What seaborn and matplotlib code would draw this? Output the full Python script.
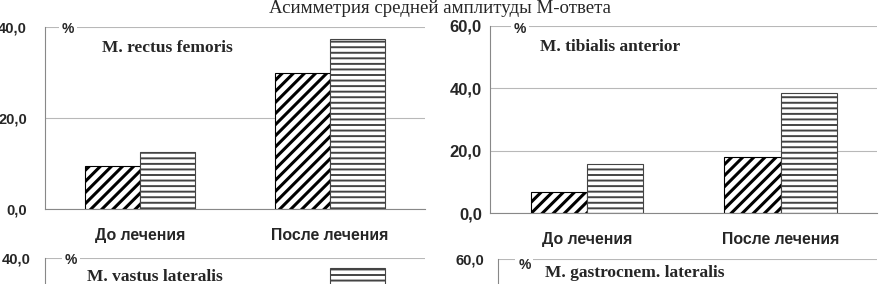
import pandas as pd
import seaborn as sns
import matplotlib.pyplot as plt

# values (bottom panels are cut off, hidden bars estimated)
categories = ["До лечения", "После лечения"]
series = ["Ряд 1", "Ряд 2"]

rectus_s1 = [9.5, 29.8]
rectus_s2 = [12.6, 37.4]
tibialis_s1 = [6.6, 18.0]
tibialis_s2 = [15.7, 38.5]
vastus_s1 = [8.0, 22.0]
vastus_s2 = [11.0, 37.8]
gastro_s1 = [9.0, 20.0]
gastro_s2 = [14.0, 33.0]

ticks_40 = [0, 20, 40]
ticks_60 = [0, 20, 40, 60]
labels_40 = ["0,0", "20,0", "40,0"]
labels_60 = ["0,0", "20,0", "40,0", "60,0"]

title = "Асимметрия средней амплитуды М-ответа"

sns.set_style("white")
plt.rcParams["font.family"] = ["Liberation Sans", "DejaVu Sans"]
plt.rcParams["hatch.linewidth"] = 2.2

fig = plt.figure(figsize=(8.8, 2.84), dpi=100)
fig.text(0.5, 0.97, title, ha="center", va="center", fontsize=13.6,
         family="Liberation Serif")

# name, s1, s2, ticks, labels, axes rect, tick label size, pad, name pos, % pos
panels = [
    ("M. rectus femoris", rectus_s1, rectus_s2, ticks_40, labels_40,
     [0.0511, 0.264, 0.432, 0.641], 10.5, 9, (0.15, 0.885), (0.045, 0.99)),
    ("M. tibialis anterior", tibialis_s1, tibialis_s2, ticks_60, labels_60,
     [0.557, 0.25, 0.44, 0.6595], 12, 2, (0.129, 0.885), (0.06, 0.98)),
    ("M. vastus lateralis", vastus_s1, vastus_s2, ticks_40, labels_40,
     [0.0511, -0.5495, 0.432, 0.641], 10.5, 6, (0.11, 0.896), (0.053, 0.99)),
    ("M. gastrocnem. lateralis", gastro_s1, gastro_s2, ticks_60, labels_60,
     [0.566, -0.5715, 0.431, 0.6595], 10.5, 6, (0.124, 0.925), (0.053, 0.97)),
]

for name, s1, s2, ticks, labels, rect, lsize, pad, npos, ppos in panels:
    df = pd.DataFrame({
        "cat": categories * 2,
        "ser": [series[0]] * 2 + [series[1]] * 2,
        "val": s1 + s2,
    })
    ax = fig.add_axes(rect)
    sns.barplot(data=df, x="cat", y="val", hue="ser", palette=["white", "white"],
                width=0.58, saturation=1, edgecolor="black", linewidth=0.8,
                legend=False, ax=ax)
    for bar in ax.containers[0]:
        bar.set_hatch("///")
        bar.set_edgecolor("black")
    for bar in ax.containers[1]:
        bar.set_hatch("---")
        bar.set_edgecolor("#444444")
        bar.set_hatch_linewidth(1.4)

    ax.set_ylim(0, ticks[-1])
    ax.set_yticks(ticks)
    ax.set_yticklabels(labels, fontweight="bold", fontsize=lsize)
    ax.set_xticks(range(len(categories)))
    ax.set_xticklabels(categories, fontweight="bold", fontsize=11.4)
    ax.set_xticks([0.5], minor=True)
    ax.set_xlabel("")
    ax.set_ylabel("")

    ax.yaxis.grid(True, color="#b8b8b8", linewidth=0.8)
    ax.set_axisbelow(True)
    for s in ["top", "right"]:
        ax.spines[s].set_visible(False)
    for s in ["left", "bottom"]:
        ax.spines[s].set_color("#888888")
        ax.spines[s].set_linewidth(0.8)
    ax.tick_params(axis="y", length=4, color="#888888", pad=pad)
    ax.tick_params(axis="x", which="major", length=0, pad=14)
    ax.tick_params(axis="x", which="minor", length=5, color="#888888")

    ax.text(npos[0], npos[1], name, transform=ax.transAxes, ha="left",
            va="center", fontsize=12.5, fontweight="bold", family="Liberation Serif")
    ax.text(ppos[0], ppos[1], "%", transform=ax.transAxes, ha="left",
            va="center", fontsize=10, fontweight="bold",
            bbox=dict(facecolor="white", edgecolor="none", pad=2))

fig.savefig("out.png", dpi=100)
